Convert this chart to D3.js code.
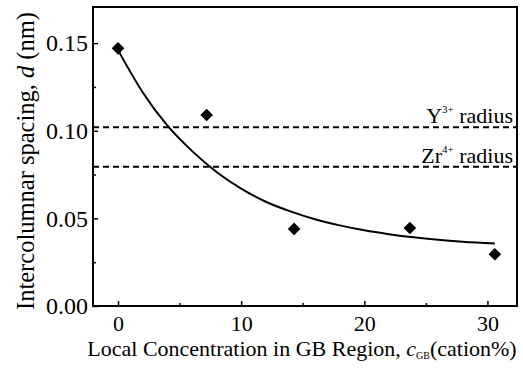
<!DOCTYPE html>
<html><head><meta charset="utf-8">
<script src="https://cdn.jsdelivr.net/npm/d3@7"></script>
<style>body{margin:0;background:#fff}svg{display:block}text{font-family:"Liberation Serif","Times New Roman",serif;fill:#000}</style>
</head><body>
<script>
const pointX = [0, 7.2, 14.3, 23.7, 30.6];
const pointY = [0.147, 0.109, 0.044, 0.0445, 0.0295];
const fitX = [0, 2, 4, 6, 8, 10, 12, 14, 16, 18, 20, 22, 24, 26, 28, 30.6];
const fitY = [0.146, 0.122, 0.103, 0.0885, 0.0765, 0.067, 0.0595, 0.054, 0.0495, 0.046, 0.0432, 0.041, 0.0392, 0.0378, 0.0367, 0.0356];
const refLines = [
  {label: "Y", sup: "3+", value: 0.102},
  {label: "Zr", sup: "4+", value: 0.0795}
];
const xTicks = [0, 10, 20, 30];
const xMinor = [5, 15, 25];
const yTicks = [0.00, 0.05, 0.10, 0.15];
const yMinor = [0.025, 0.075, 0.125];

const W = 523, H = 370;
const L = 93, R = 517, T = 7, B = 306;
const FONT = '"Liberation Serif","Times New Roman",serif';
const svg = d3.select("body").append("svg").attr("width", W).attr("height", H);
const x = d3.scaleLinear().domain([-2.03, 32.4]).range([L, R]);
const y = d3.scaleLinear().domain([0, 0.1706]).range([B, T]);

function style(a, fs) {
  a.attr("font-family", FONT);
  a.select(".domain").remove();
  a.selectAll("line").attr("stroke-width", 1.5);
  if (fs) a.selectAll("text").attr("font-size", fs);
}

// ticks
svg.append("g").attr("transform", `translate(0,${B})`)
  .call(d3.axisBottom(x).tickValues(xTicks).tickSize(-5).tickFormat(d3.format("d")).tickPadding(9))
  .call(a => style(a, 22));
svg.append("g").attr("transform", `translate(0,${B})`)
  .call(d3.axisBottom(x).tickValues(xMinor).tickSize(-3).tickFormat(""))
  .call(a => style(a));
svg.append("g").attr("transform", `translate(${L},0)`)
  .call(d3.axisLeft(y).tickValues(yTicks).tickSize(-5).tickFormat(d3.format(".2f")).tickPadding(5))
  .call(a => style(a, 24));
svg.append("g").attr("transform", `translate(${L},0)`)
  .call(d3.axisLeft(y).tickValues(yMinor).tickSize(-3).tickFormat(""))
  .call(a => style(a));

// reference lines
refLines.forEach(r => {
  svg.append("line").attr("x1", L).attr("x2", R).attr("y1", y(r.value)).attr("y2", y(r.value))
    .attr("stroke", "#000").attr("stroke-width", 2).attr("stroke-dasharray", "6,4");
  const t = svg.append("text").attr("x", 513).attr("y", y(r.value) - 4).attr("text-anchor", "end").attr("font-size", 22);
  t.append("tspan").text(r.label);
  t.append("tspan").attr("font-size", 11).attr("dy", -10).text(r.sup);
  t.append("tspan").attr("dy", 10).text("\u00a0radius");
});

// fit curve
const fit = fitX.map((d, i) => [d, fitY[i]]);
svg.append("path").datum(fit)
  .attr("d", d3.line().x(d => x(d[0])).y(d => y(d[1])).curve(d3.curveMonotoneX))
  .attr("fill", "none").attr("stroke", "#000").attr("stroke-width", 2);

// points
const sym = d3.symbol().type(d3.symbolSquare).size(80);
svg.append("g").selectAll("path").data(pointX.map((d, i) => [d, pointY[i]])).join("path")
  .attr("d", sym).attr("transform", d => `translate(${x(d[0])},${y(d[1])}) rotate(45)`).attr("fill", "#000");

// frame
svg.append("rect").attr("x", L).attr("y", T).attr("width", R - L).attr("height", B - T)
  .attr("fill", "none").attr("stroke", "#000").attr("stroke-width", 2);

// axis titles
const xt = svg.append("text").attr("x", 302).attr("y", 355.5).attr("text-anchor", "middle").attr("font-size", 22);
xt.append("tspan").text("Local Concentration in GB Region, ");
xt.append("tspan").attr("font-style", "italic").text("c");
xt.append("tspan").attr("font-size", 10).attr("dy", 3).text("GB");
xt.append("tspan").attr("dy", -3).text("(cation%)");

const yt = svg.append("text").attr("transform", `translate(34,161) rotate(-90)`).attr("text-anchor", "middle").attr("font-size", 24.5);
yt.append("tspan").text("Intercolumnar spacing, ");
yt.append("tspan").attr("font-style", "italic").text("d");
yt.append("tspan").text(" (nm)");
</script>
</body></html>
